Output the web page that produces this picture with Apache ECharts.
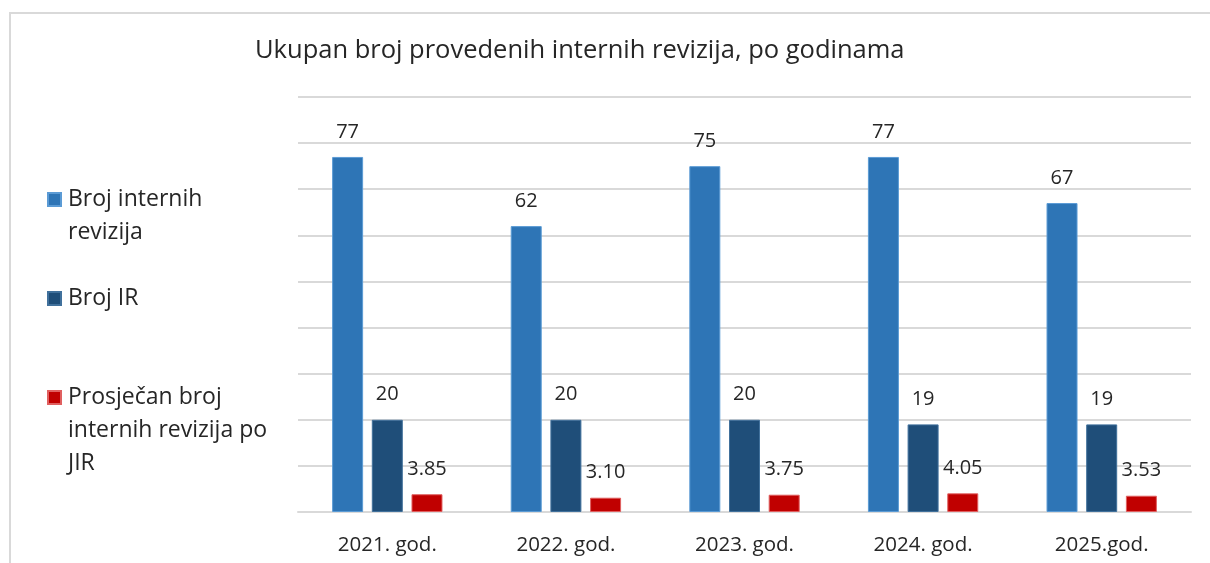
<!DOCTYPE html>
<html>
<head>
<meta charset="utf-8">
<script src="https://cdn.jsdelivr.net/npm/echarts@6/dist/echarts.min.js"></script>
<style>
html,body{margin:0;padding:0;background:#fff;}
#chart{width:1210px;height:563px;}
</style>
</head>
<body>
<div id="chart"></div>
<script>
const categories = ['2021. god.', '2022. god.', '2023. god.', '2024. god.', '2025.god.'];
const seriesNames = ['Broj internih revizija', 'Broj IR', 'Prosječan broj internih revizija po JIR'];
const internalAudits = [77, 62, 75, 77, 67];
const irCount = [20, 20, 20, 19, 19];
const avgPerUnit = [3.85, 3.10, 3.75, 4.05, 3.53];
const titleText = 'Ukupan broj provedenih internih revizija, po godinama';

const FONT = '"Open Sans", "Noto Sans", sans-serif';
const textColor = '#262626';
const gridColor = '#d9d9d9';

const chart = echarts.init(document.getElementById('chart'));

function legendFor(name, text, top) {
  return {
    data: [name],
    orient: 'vertical',
    left: 47,
    top: top,
    padding: 0,
    itemWidth: 13,
    itemHeight: 13,
    itemGap: 0,
    icon: 'rect',
    selectedMode: false,
    textStyle: { fontFamily: FONT, fontSize: 23, color: textColor, lineHeight: 33, padding: [0, 0, 0, 2] },
    formatter: function () { return text; }
  };
}

const labelBase = {
  show: true,
  position: 'top',
  distance: 15,
  fontFamily: FONT,
  fontSize: 20,
  color: textColor
};

chart.setOption({
  animation: false,
  backgroundColor: '#ffffff',
  title: {
    text: titleText,
    left: 255,
    top: 38,
    padding: 0,
    textStyle: { fontFamily: FONT, fontSize: 25.5, fontWeight: 'normal', color: textColor }
  },
  graphic: [{
    type: 'rect',
    shape: { x: 10, y: 13, width: 1400, height: 800 },
    style: { fill: 'none', stroke: gridColor, lineWidth: 2 },
    silent: true
  }],
  legend: [
    legendFor(seriesNames[0], '\nBroj internih\nrevizija', 150),
    legendFor(seriesNames[1], 'Broj IR', 282),
    legendFor(seriesNames[2], '\n\nProsječan broj\ninternih revizija po\nJIR', 315)
  ],
  grid: { left: 298, right: 19, top: 97, bottom: 51, containLabel: false },
  xAxis: {
    type: 'category',
    data: categories,
    axisLine: { show: true, lineStyle: { color: gridColor, width: 2 } },
    axisTick: { show: false },
    axisLabel: { fontFamily: FONT, fontSize: 20.5, color: textColor, margin: 23 }
  },
  yAxis: {
    type: 'value',
    min: 0,
    max: 90,
    interval: 10,
    axisLine: { show: false },
    axisTick: { show: false },
    axisLabel: { show: false },
    splitLine: { lineStyle: { color: gridColor, width: 2 } }
  },
  series: [
    {
      name: seriesNames[0], type: 'bar', data: internalAudits,
      barWidth: 31, barGap: '28%',
      itemStyle: { color: '#2E75B6', borderColor: '#5b9bd5', borderWidth: 1 },
      label: labelBase
    },
    {
      name: seriesNames[1], type: 'bar', data: irCount,
      barWidth: 31, barGap: '28%',
      itemStyle: { color: '#1F4E79', borderColor: '#41719c', borderWidth: 1 },
      label: labelBase
    },
    {
      name: seriesNames[2], type: 'bar', data: avgPerUnit,
      barWidth: 31, barGap: '28%',
      itemStyle: { color: '#C00000', borderColor: '#e06060', borderWidth: 1 },
      label: Object.assign({}, labelBase, { formatter: function (p) { return p.value.toFixed(2); } })
    }
  ]
});
</script>
</body>
</html>
